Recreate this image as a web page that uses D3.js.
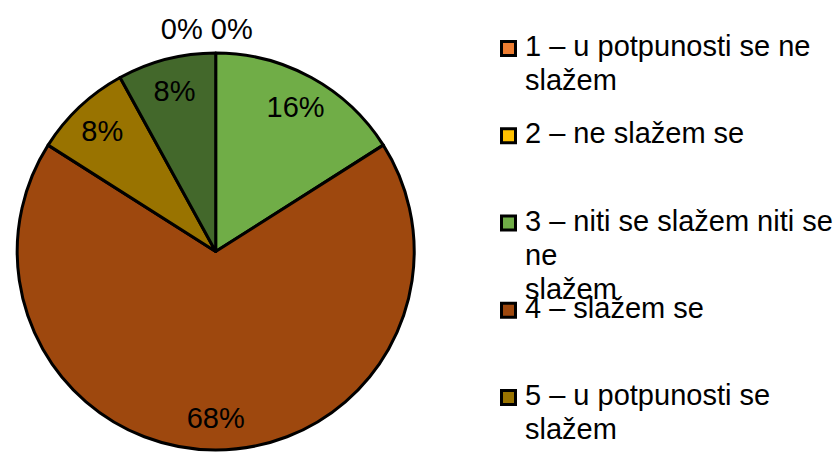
<!DOCTYPE html>
<html><head><meta charset="utf-8">
<script src="https://cdn.jsdelivr.net/npm/d3@7"></script>
<style>
body{margin:0;background:#fff}
svg{display:block}
text{font-family:"Liberation Sans",Arial,sans-serif;fill:#000}
</style>
</head><body>
<svg id="chart" width="837" height="453"></svg>
<script>
// Data
const categories = ["1", "2", "3", "4", "5", "6"];
const values = [0, 0, 16, 68, 8, 8];
const colors = ["#ED7D31", "#FFC000", "#70AD47", "#9E480E", "#997300", "#43682B"];
const legendLabels = [
  ["1 – u potpunosti se ne", "slažem"],
  ["2 – ne slažem se"],
  ["3 – niti se slažem niti se", "ne", "slažem"],
  ["4 – slažem se"],
  ["5 – u potpunosti se", "slažem"]
];

const svg = d3.select("#chart");
const cx = 215.7, cy = 251.5, r = 198.5;
const fontSize = 29;

const pie = d3.pie().sort(null).value(d => d.v);
const arcs = pie(values.map((v, i) => ({v, i, c: categories[i]})));
const arc = d3.arc().innerRadius(0).outerRadius(r);
const labelArc = d3.arc().innerRadius(r * 0.835).outerRadius(r * 0.835);

const g = svg.append("g").attr("transform", `translate(${cx},${cy})`);
g.selectAll("path.slice").data(arcs.filter(d => d.data.v > 0)).join("path")
  .attr("class", "slice")
  .attr("d", arc)
  .attr("fill", d => colors[d.data.i])
  .attr("stroke", "#000")
  .attr("stroke-width", 3)
  .attr("stroke-linejoin", "round");

// labels inside
g.selectAll("text.lbl").data(arcs.filter(d => d.data.v > 0)).join("text")
  .attr("class", "lbl")
  .attr("x", d => labelArc.centroid(d)[0])
  .attr("y", d => labelArc.centroid(d)[1])
  .attr("dy", "0.358em")
  .attr("text-anchor", "middle")
  .attr("font-size", fontSize)
  .text(d => d.data.v + "%");

// zero labels outside at the top
const zeros = arcs.filter(d => d.data.v === 0);
g.selectAll("text.zero").data(zeros).join("text")
  .attr("class", "zero")
  .attr("x", (d, k) => -34 + k * 50)
  .attr("y", -r - 24)
  .attr("dy", "0.358em")
  .attr("text-anchor", "middle")
  .attr("font-size", fontSize)
  .text(d => d.data.v + "%");

// legend
const lg = svg.append("g");
const item = lg.selectAll("g.item").data(legendLabels).join("g")
  .attr("class", "item")
  .attr("transform", (d, i) => `translate(0,${56 + i * 87.25})`);
item.append("rect")
  .attr("x", 501.5).attr("y", -14.5)
  .attr("width", 14).attr("height", 14)
  .attr("fill", (d, i) => colors[i])
  .attr("stroke", "#000").attr("stroke-width", 3);
item.append("text")
  .attr("x", 525)
  .attr("font-size", fontSize)
  .selectAll("tspan").data(d => d).join("tspan")
  .attr("x", 525)
  .attr("y", (d, j) => j * 34)
  .text(d => d);
</script>
</body></html>
